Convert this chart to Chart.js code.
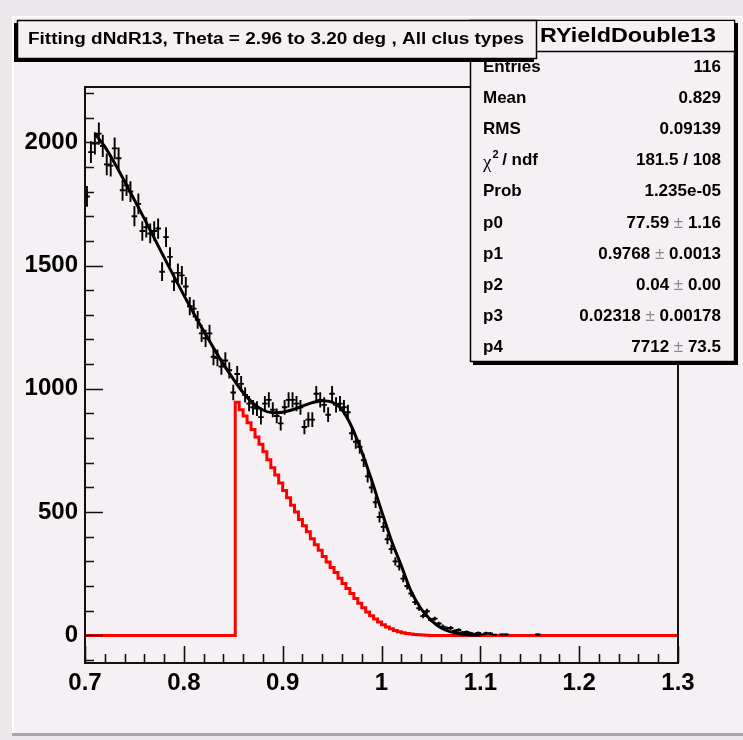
<!DOCTYPE html>
<html><head><meta charset="utf-8">
<script src="https://cdn.jsdelivr.net/npm/chart.js@4"></script>
<style>html,body{margin:0;padding:0;background:#eeeaee;overflow:hidden}canvas{display:block}</style>
</head><body>
<canvas id="c" width="743" height="740"></canvas>
<script>
// ---------- data ----------
const xMin = 0.7, xMax = 1.3, binWidth = 0.004;
const yMin = -112, yMax = 2224;
const xTickLabels = [0.7, 0.8, 0.9, 1.0, 1.1, 1.2, 1.3];
const yTickLabels = [0, 500, 1000, 1500, 2000];

// measured histogram (bin centres 0.702 ... 1.162)
const dataCounts = [
 1780,1960,1995,2035,1985,1910,1905,1975,1935,1805,
 1825,1800,1700,1750,1640,1655,1630,1640,1650,1475,
 1615,1535,1435,1470,1460,1415,1335,1325,1280,1225,
 1205,1225,1130,1125,1090,1115,1075,985,1060,1020,
 975,940,925,920,885,940,955,915,890,860,
 925,955,955,940,925,845,875,875,980,955,
 935,895,980,935,940,925,905,820,785,765,
 710,645,600,540,480,440,390,350,300,280,
 230,200,170,135,110,78,98,62,68,48,
 35,28,30,18,22,12,14,9,6,10,
 4,9,8,3,null,4,4,null,null,null,
 null,null,null,null,4,null];
const dataErrors = [
 42,44,45,45,45,44,44,44,44,42,
 43,42,41,42,40,41,40,40,41,38,
 40,39,38,38,38,38,37,36,36,35,
 35,35,34,34,33,33,33,31,33,32,
 31,31,30,30,30,31,31,30,30,29,
 30,31,31,31,30,29,30,30,31,31,
 31,30,31,31,31,30,30,29,28,28,
 27,25,24,23,22,21,20,19,17,17,
 15,14,13,12,10,9,10,8,8,7,
 9,8,8,7,7,6,6,6,5,6,
 5,6,6,4,null,5,5,null,null,null,
 null,null,null,null,5,null];

// fit function (black curve)
const fitX = [0.71,0.72,0.73,0.74,0.75,0.76,0.77,0.78,0.79,0.80,
              0.81,0.82,0.83,0.84,0.85,0.86,0.87,0.88,0.89,0.90,
              0.91,0.92,0.93,0.94,0.95,0.96,0.97,0.98,0.99,1.00,
              1.01,1.02,1.03,1.04,1.05,1.06,1.07,1.08,1.09,1.10];
const fitY = [2035,1982,1915,1842,1766,1690,1612,1533,1456,1380,
              1306,1235,1166,1100,1040,985,942,914,903,905,
              915,930,944,952,946,915,845,745,630,505,
              385,283,178,108,62,31,14,6,2,1];

// red component histogram (starts at bin edge 0.852)
const redStartEdge = 0.852;
const redCounts = [945,915,890,862,835,805,775,745,712,680,
                   650,618,588,558,528,500,470,445,420,392,
                   368,345,320,298,275,255,232,210,190,170,
                   150,130,112,95,80,66,54,43,34,27,
                   20,15,11,8,6,4,3,2,1,0];

const titleText = "Fitting dNdR13, Theta = 2.96 to 3.20 deg , All clus types";
const statsName = "RYieldDouble13";
const statsLabels = ["Entries","Mean","RMS","chi","Prob","p0","p1","p2","p3","p4"];
const statsValues = ["116","0.829","0.09139","181.5 / 108","1.235e-05",
  "77.59 ± 1.16","0.9768 ± 0.0013","0.04 ± 0.00","0.02318 ± 0.00178","7712 ± 73.5"];

// ---------- style ----------
const F = '"Liberation Sans", Arial, Helvetica, sans-serif';
const padBg = '#f4f0f4', outerBg = '#ebe7eb';

const dataPoints = [];
dataCounts.forEach((v,i)=>{ if(v!==null) dataPoints.push({x: xMin+(i+0.5)*binWidth, y: v}); });
const fitPoints = fitX.map((x,i)=>({x, y: fitY[i]}));
const redPoints = [{x:xMin, y:0}];
redCounts.forEach((v,k)=>redPoints.push({x: redStartEdge + k*binWidth, y: v}));
redPoints.push({x: redStartEdge + redCounts.length*binWidth, y: 0});
redPoints.push({x: xMax, y: 0});

const bgPlugin = {
  id:'bg',
  beforeDraw(chart){
    const c = chart.ctx;
    c.save();
    c.fillStyle = outerBg; c.fillRect(0,0,743,740);
    c.fillStyle = padBg; c.fillRect(12,16,731,718);
    c.fillStyle = '#ffffff'; c.fillRect(12,16,2,718); c.fillRect(12,16,731,1);
    c.fillStyle = '#a8a6a8'; c.fillRect(12,733,731,3);
    c.restore();
  }
};

const errorBars = {
  id:'errorBars',
  afterDatasetDraw(chart, args){
    if(args.index !== 1) return;
    const {ctx, chartArea:a, scales:{x, y}} = chart;
    ctx.save();
    ctx.beginPath(); ctx.rect(a.left, a.top, a.right-a.left, a.bottom-a.top); ctx.clip();
    ctx.strokeStyle = '#000'; ctx.lineWidth = 1.9;
    ctx.beginPath();
    dataCounts.forEach((v,i)=>{
      if(v===null) return;
      const cx = xMin+(i+0.5)*binWidth, e = dataErrors[i];
      const px = x.getPixelForValue(cx), py = y.getPixelForValue(v);
      ctx.moveTo(x.getPixelForValue(cx-binWidth/2)-0.8, py);
      ctx.lineTo(x.getPixelForValue(cx+binWidth/2)+0.8, py);
      ctx.moveTo(px, y.getPixelForValue(v-e));
      ctx.lineTo(px, y.getPixelForValue(v+e));
    });
    ctx.stroke();
    ctx.restore();
  }
};

function drawValue(c, str, right, yc){
  const parts = str.split('±');
  c.textBaseline = 'middle';
  if(parts.length === 1){
    c.font = 'bold 17px '+F; c.textAlign='right'; c.fillStyle='#000';
    c.fillText(str, right, yc); return;
  }
  const a = parts[0].trim(), b = parts[1].trim();
  c.textAlign = 'left';
  c.font = 'bold 17px '+F; const wb = c.measureText(' '+b).width, wa = c.measureText(a+' ').width;
  c.font = '17px '+F; const wp = c.measureText('±').width;
  let x = right - wb - wp - wa;
  c.font = 'bold 17px '+F; c.fillStyle='#000'; c.fillText(a+' ', x, yc); x += wa;
  c.font = '17px '+F; c.fillStyle='#8a8a8a'; c.fillText('±', x, yc); x += wp;
  c.font = 'bold 17px '+F; c.fillStyle='#000'; c.fillText(' '+b, x, yc);
}

const framePlugin = {
  id:'frame',
  afterDraw(chart){
    const {ctx:c, chartArea:a, scales:{x, y}} = chart;
    c.save();
    // frame
    c.strokeStyle = '#111'; c.lineWidth = 2;
    c.strokeRect(a.left, a.top, a.right-a.left, a.bottom-a.top);
    // y ticks
    c.lineWidth = 1.6; c.beginPath();
    for(let v=-100; v<=2200; v+=100){
      const py = Math.round(y.getPixelForValue(v))+0.5;
      const len = (v % 500 === 0) ? 18 : 9;
      c.moveTo(a.left, py); c.lineTo(a.left+len, py);
    }
    // x ticks
    for(let k=0; k<=30; k++){
      const v = xMin + k*0.02;
      const px = Math.round(x.getPixelForValue(v))+0.5;
      const len = (k % 5 === 0) ? 17 : 9;
      c.moveTo(px, a.bottom); c.lineTo(px, a.bottom-len);
    }
    c.stroke();

    // stats box
    const sx=470, sy=20, sw=265, sh=342;
    c.fillStyle='#000'; c.fillRect(sx+3, sy+3, sw, sh);
    c.fillStyle=padBg; c.fillRect(sx, sy, sw, sh);
    c.strokeStyle='#000'; c.lineWidth=1.5; c.strokeRect(sx+0.5, sy+0.5, sw-1, sh-1);
    // rows
    const rows0 = 67, dy = 31.2;
    statsLabels.forEach((lab,i)=>{
      const yc = rows0 + i*dy;
      c.textBaseline='middle'; c.textAlign='left'; c.fillStyle='#000';
      if(lab === 'chi'){
        c.font = '19px "Liberation Serif", "DejaVu Serif", serif';
        c.fillText('χ', 483, yc+2);
        const w = c.measureText('χ').width;
        c.font = 'bold 11px '+F; c.fillText('2', 483+w+1, yc-6);
        c.font = 'bold 17px '+F; c.fillText(' / ndf', 483+w+6, yc);
      } else {
        c.font = 'bold 17px '+F;
        if(i===0){
          c.save(); c.beginPath(); c.rect(sx, 61, sw, 40); c.clip();
          c.fillText(lab, 483, yc); c.restore();
        } else c.fillText(lab, 483, yc);
      }
      drawValue(c, statsValues[i], 721, yc);
    });
    // header
    c.fillStyle = padBg; c.fillRect(sx+1, sy+1, sw-2, 31);
    c.beginPath(); c.moveTo(sx, 51.5); c.lineTo(sx+sw, 51.5); c.lineWidth=1.5; c.stroke();
    c.font = 'bold 21px '+F; c.textAlign='right'; c.textBaseline='middle'; c.fillStyle='#000';
    const hw = c.measureText(statsName).width;
    c.save(); c.translate(716, 36); c.scale(176/hw, 1); c.fillText(statsName, 0, 0); c.restore();

    // title box
    const tx=17, ty=20, tw=520, th=39;
    c.fillStyle='#000'; c.fillRect(tx-3, ty+3, tw, th);
    c.fillStyle=padBg; c.fillRect(tx, ty, tw, th);
    c.strokeStyle='#000'; c.lineWidth=1.5; c.strokeRect(tx+0.5, ty+0.5, tw-1, th-1);
    c.font = 'bold 16px '+F; c.textAlign='left'; c.textBaseline='middle'; c.fillStyle='#000';
    const ttw = c.measureText(titleText).width;
    c.save(); c.translate(28, 40); c.scale(496/ttw, 1); c.fillText(titleText, 0, 0); c.restore();
    c.restore();
  }
};

new Chart(document.getElementById('c'), {
  type: 'scatter',
  data: { datasets: [
    { type:'line', data: redPoints, stepped:'before', borderColor:'#ff0000', borderWidth:3,
      pointRadius:0, fill:false, order:2 },
    { type:'scatter', data: dataPoints, pointRadius:0, borderWidth:0, order:1 },
    { type:'line', data: fitPoints, borderColor:'#000', borderWidth:3, pointRadius:0,
      cubicInterpolationMode:'monotone', fill:false, order:0 }
  ]},
  options: {
    responsive:false, animation:false, devicePixelRatio:1,
    layout:{ padding:{ left:0, right:65, top:87, bottom:0 } },
    plugins:{ legend:{display:false}, tooltip:{enabled:false}, title:{display:false} },
    scales:{
      x:{ type:'linear', min:xMin, max:xMax,
          afterFit(s){ s.height = 77; },
          afterBuildTicks(ax){ ax.ticks = xTickLabels.map(v=>({value:v})); },
          grid:{display:false, drawTicks:false}, border:{display:false},
          ticks:{ color:'#000', padding:6, maxRotation:0, autoSkip:false,
                  font:{family:F, size:24, weight:'bold'},
                  callback:(v)=>String(Math.round(v*10)/10) } },
      y:{ type:'linear', min:yMin, max:yMax,
          afterFit(s){ s.width = 85; },
          afterBuildTicks(ax){ ax.ticks = yTickLabels.map(v=>({value:v})); },
          grid:{display:false, drawTicks:false}, border:{display:false},
          ticks:{ color:'#000', padding:7, autoSkip:false,
                  font:{family:F, size:24, weight:'bold'},
                  callback:(v)=>String(v) } }
    }
  },
  plugins:[bgPlugin, errorBars, framePlugin]
});
</script>
</body></html>
